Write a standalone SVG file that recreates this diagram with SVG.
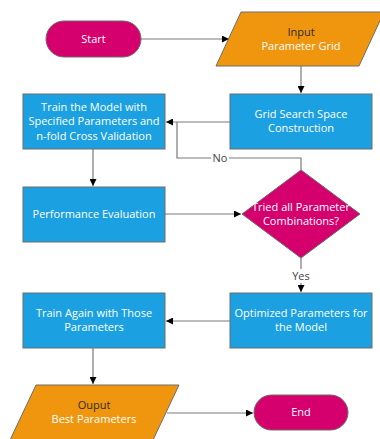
<svg xmlns="http://www.w3.org/2000/svg" width="380" height="439" viewBox="0 0 380 439">
<defs>
<marker id="ah" viewBox="0 0 10 10" refX="10" refY="5" markerWidth="7" markerHeight="7" markerUnits="userSpaceOnUse" orient="auto">
<path d="M0,0 L10,5 L0,10 z" fill="#000"/>
</marker>
<style>
.t{font-family:"Open Sans","Noto Sans",sans-serif;font-size:11px;fill:#fff;text-anchor:middle;}
.d{fill:#2b2b2b;}
.lbl{font-family:"Open Sans","Noto Sans",sans-serif;font-size:11px;fill:#444;text-anchor:middle;}
.mag{fill:#D5006E;stroke:#6d6d6d;stroke-width:1;}
.org{fill:#F0960E;stroke:#6d6d6d;stroke-width:1;}
.blu{fill:#1BA1E2;stroke:#6d6d6d;stroke-width:1;}
.c{fill:none;stroke:#7a7a7a;stroke-width:1.2;}
</style>
</defs>
<rect width="380" height="439" fill="#fff"/>
<g id="connectors">
<path class="c" d="M141,39 H229" marker-end="url(#ah)"/>
<path class="c" d="M301,66 V93" marker-end="url(#ah)"/>
<path class="c" d="M230,122 H166" marker-end="url(#ah)"/>
<path class="c" d="M301,170 V158 H177 V122"/>
<path class="c" d="M93,149 V186" marker-end="url(#ah)"/>
<path class="c" d="M165,214 H241" marker-end="url(#ah)"/>
<path class="c" d="M301,258 V292" marker-end="url(#ah)"/>
<path class="c" d="M230,321 H166" marker-end="url(#ah)"/>
<path class="c" d="M93,348 V384" marker-end="url(#ah)"/>
<path class="c" d="M167,413 H253" marker-end="url(#ah)"/>
<rect x="211" y="151" width="18" height="14" fill="#fff"/>
<text class="lbl" x="220" y="162">No</text>
<rect x="290" y="269" width="22" height="14" fill="#fff"/>
<text class="lbl" x="301" y="280">Yes</text>
</g>
<g id="start">
<rect class="mag" x="46" y="21" width="95" height="36" rx="18"/>
<text class="t" x="93.5" y="43">Start</text>
</g>
<g id="input">
<polygon class="org" points="241,12 384,12 359,66 216,66"/>
<text class="t d" x="301" y="36">Input</text>
<text class="t" x="301" y="50">Parameter Grid</text>
</g>
<g id="grid">
<rect class="blu" x="230" y="94" width="142" height="55"/>
<text class="t" x="301" y="118">Grid Search Space</text>
<text class="t" x="301" y="132">Construction</text>
</g>
<g id="train">
<rect class="blu" x="23" y="94" width="142" height="55"/>
<text class="t" x="94" y="111">Train the Model with</text>
<text class="t" x="94" y="125">Specified Parameters and</text>
<text class="t" x="94" y="140">n-fold Cross Validation</text>
</g>
<g id="perf">
<rect class="blu" x="23" y="187" width="142" height="55"/>
<text class="t" x="94" y="218">Performance Evaluation</text>
</g>
<g id="decision">
<polygon class="mag" points="301,170 360,214 301,258 242,214"/>
<text class="t" x="301" y="211">Tried all Parameter</text>
<text class="t" x="301" y="225">Combinations?</text>
</g>
<g id="optimized">
<rect class="blu" x="230" y="293" width="142" height="55"/>
<text class="t" x="301" y="317">Optimized Parameters for</text>
<text class="t" x="301" y="331">the Model</text>
</g>
<g id="trainagain">
<rect class="blu" x="23" y="293" width="142" height="55"/>
<text class="t" x="94" y="317">Train Again with Those</text>
<text class="t" x="94" y="331">Parameters</text>
</g>
<g id="output">
<polygon class="org" points="36,385 179,385 153,440 10,440"/>
<text class="t d" x="94" y="409">Ouput</text>
<text class="t" x="94" y="423">Best Parameters</text>
</g>
<g id="end">
<rect class="mag" x="254" y="395" width="94" height="35" rx="17.5"/>
<text class="t" x="301" y="416">End</text>
</g>
</svg>
